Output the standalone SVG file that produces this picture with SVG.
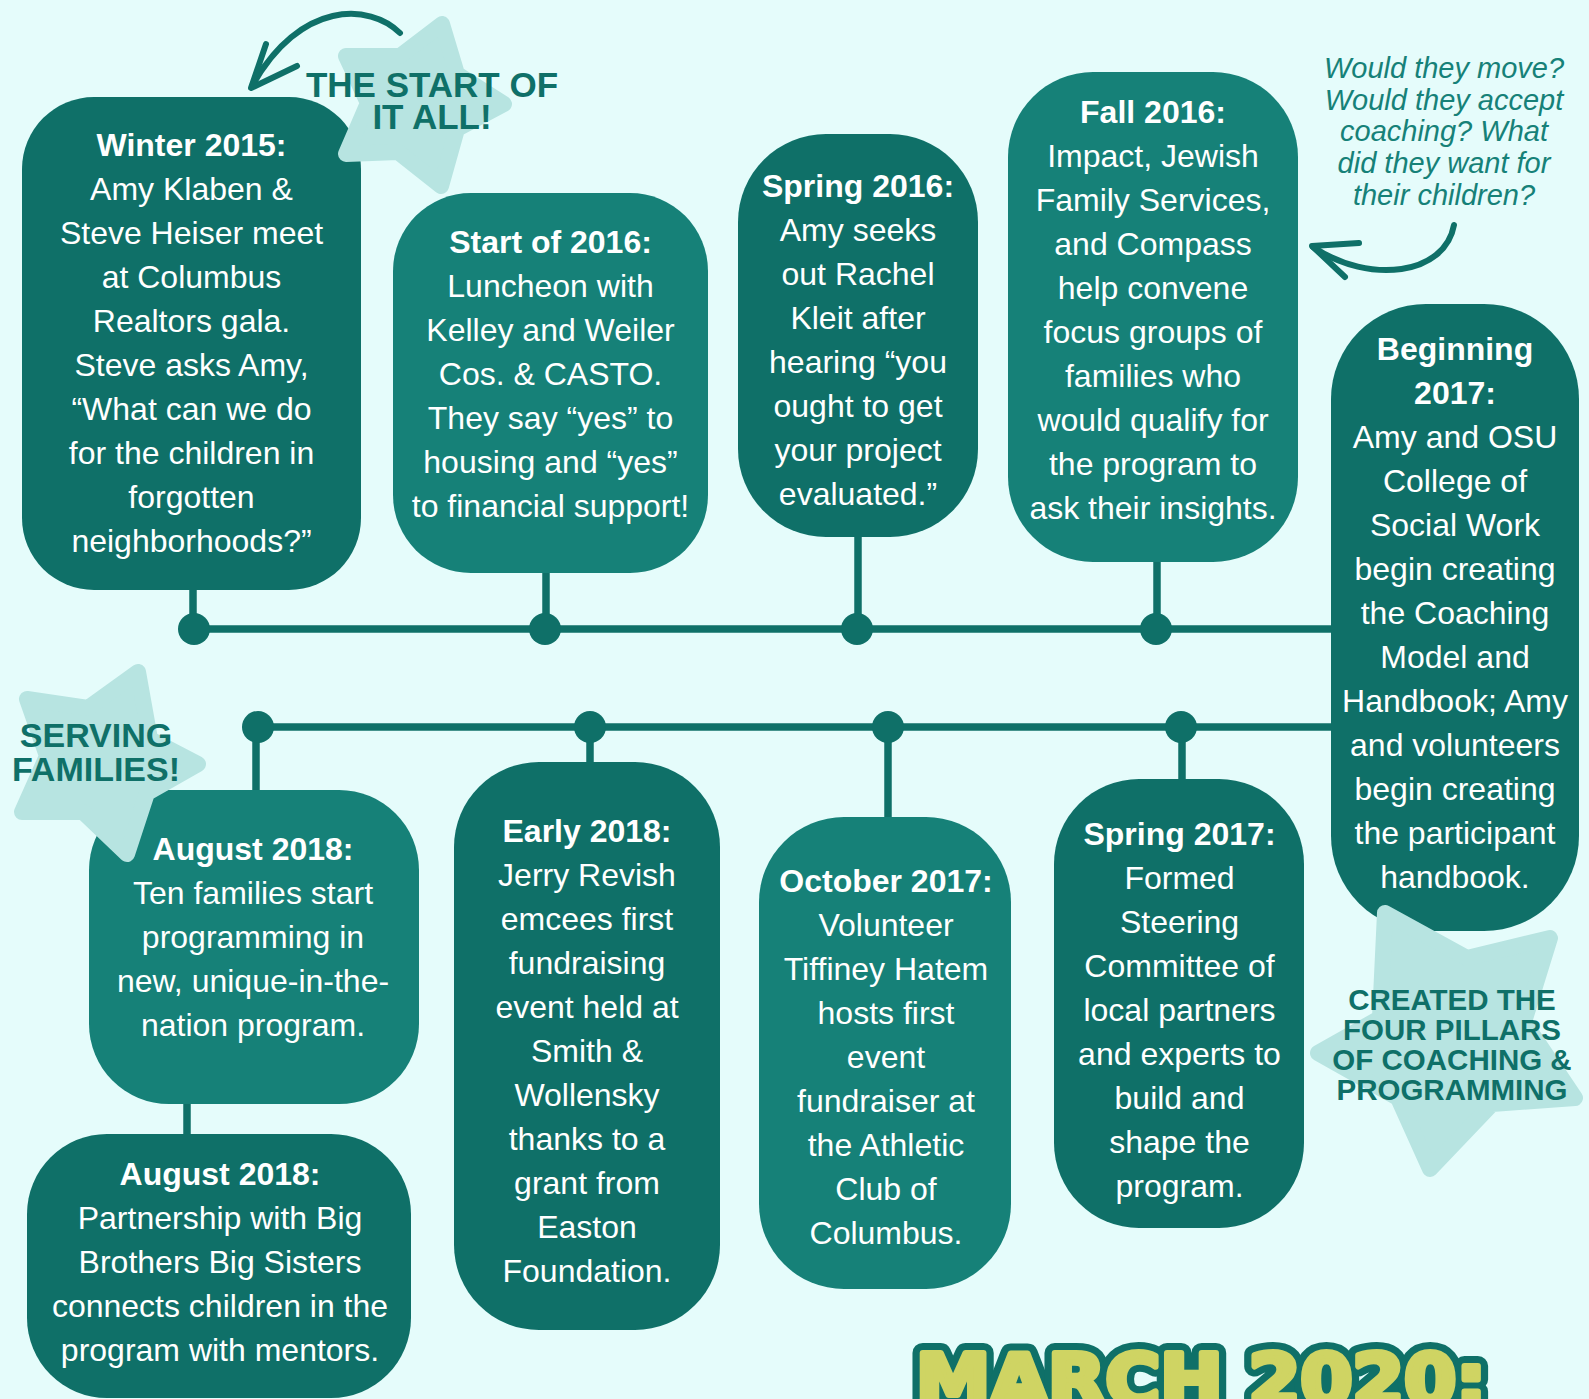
<svg xmlns="http://www.w3.org/2000/svg" width="1589" height="1399" viewBox="0 0 1589 1399">
<style>
.d{fill:#0F7068}
.l{fill:#168178}
.t{font-family:'Liberation Sans',Arial,sans-serif;font-size:32px;fill:#ffffff;text-anchor:middle}
.b{font-weight:bold}
.star{fill:#B7E4E1;stroke:#B7E4E1;stroke-width:16;stroke-linejoin:round}
.st{font-family:'Liberation Sans',Arial,sans-serif;font-weight:bold;fill:#0F7068;text-anchor:middle}
.it{font-family:'Liberation Sans',Arial,sans-serif;font-style:italic;font-size:29px;fill:#168178;text-anchor:middle}
.ln{stroke:#0F7068;stroke-width:7.5;fill:none}
.arr{stroke:#0F7068;stroke-width:6;fill:none;stroke-linecap:round;stroke-linejoin:round}
.big{font-family:'DejaVu Sans',sans-serif;font-weight:bold;font-size:72px;stroke-linejoin:round}
</style>
<rect width="1589" height="1399" fill="#E5FCFB"/>

<g id="connectors">
  <line class="ln" x1="193" y1="629" x2="1333" y2="629"/>
  <line class="ln" x1="257" y1="727" x2="1333" y2="727"/>
  <line class="ln" x1="193" y1="585" x2="193" y2="629"/>
  <line class="ln" x1="546" y1="570" x2="546" y2="629"/>
  <line class="ln" x1="858" y1="535" x2="858" y2="629"/>
  <line class="ln" x1="1157" y1="560" x2="1157" y2="629"/>
  <line class="ln" x1="256" y1="727" x2="256" y2="793"/>
  <line class="ln" x1="590" y1="727" x2="590" y2="765"/>
  <line class="ln" x1="888" y1="727" x2="888" y2="820"/>
  <line class="ln" x1="1182" y1="727" x2="1182" y2="782"/>
  <line class="ln" x1="187" y1="1100" x2="187" y2="1137"/>
  <g fill="#0F7068">
    <circle cx="194" cy="629" r="16"/>
    <circle cx="545" cy="629" r="16"/>
    <circle cx="857" cy="629" r="16"/>
    <circle cx="1156" cy="629" r="16"/>
    <circle cx="258" cy="727" r="16"/>
    <circle cx="590" cy="727" r="16"/>
    <circle cx="888" cy="727" r="16"/>
    <circle cx="1181" cy="727" r="16"/>
  </g>
</g>

<g id="winter2015">
  <rect class="d" x="22" y="97" width="339" height="493" rx="72"/>
  <text class="t" y="155.5"><tspan class="b" x="191.5">Winter 2015:</tspan><tspan x="191.5" dy="44">Amy Klaben &amp;</tspan><tspan x="191.5" dy="44">Steve Heiser meet</tspan><tspan x="191.5" dy="44">at Columbus</tspan><tspan x="191.5" dy="44">Realtors gala.</tspan><tspan x="191.5" dy="44">Steve asks Amy,</tspan><tspan x="191.5" dy="44">“What can we do</tspan><tspan x="191.5" dy="44">for the children in</tspan><tspan x="191.5" dy="44">forgotten</tspan><tspan x="191.5" dy="44">neighborhoods?”</tspan></text>
</g>

<g id="start2016">
  <rect class="l" x="393" y="193" width="315" height="380" rx="78"/>
  <text class="t" y="252.5"><tspan class="b" x="550.5">Start of 2016:</tspan><tspan x="550.5" dy="44">Luncheon with</tspan><tspan x="550.5" dy="44">Kelley and Weiler</tspan><tspan x="550.5" dy="44">Cos. &amp; CASTO.</tspan><tspan x="550.5" dy="44">They say “yes” to</tspan><tspan x="550.5" dy="44">housing and “yes”</tspan><tspan x="550.5" dy="44">to financial support!</tspan></text>
</g>

<g id="spring2016">
  <rect class="d" x="738" y="134" width="240" height="403" rx="88"/>
  <text class="t" y="196.5"><tspan class="b" x="858">Spring 2016:</tspan><tspan x="858" dy="44">Amy seeks</tspan><tspan x="858" dy="44">out Rachel</tspan><tspan x="858" dy="44">Kleit after</tspan><tspan x="858" dy="44">hearing “you</tspan><tspan x="858" dy="44">ought to get</tspan><tspan x="858" dy="44">your project</tspan><tspan x="858" dy="44">evaluated.”</tspan></text>
</g>

<g id="fall2016">
  <rect class="l" x="1008" y="72" width="290" height="490" rx="85"/>
  <text class="t" y="122.5"><tspan class="b" x="1153">Fall 2016:</tspan><tspan x="1153" dy="44">Impact, Jewish</tspan><tspan x="1153" dy="44">Family Services,</tspan><tspan x="1153" dy="44">and Compass</tspan><tspan x="1153" dy="44">help convene</tspan><tspan x="1153" dy="44">focus groups of</tspan><tspan x="1153" dy="44">families who</tspan><tspan x="1153" dy="44">would qualify for</tspan><tspan x="1153" dy="44">the program to</tspan><tspan x="1153" dy="44">ask their insights.</tspan></text>
</g>

<g id="beginning2017">
  <rect class="d" x="1331" y="304" width="248" height="627" rx="95"/>
  <text class="t" y="360"><tspan class="b" x="1455">Beginning</tspan><tspan class="b" x="1455" dy="44">2017:</tspan><tspan x="1455" dy="44">Amy and OSU</tspan><tspan x="1455" dy="44">College of</tspan><tspan x="1455" dy="44">Social Work</tspan><tspan x="1455" dy="44">begin creating</tspan><tspan x="1455" dy="44">the Coaching</tspan><tspan x="1455" dy="44">Model and</tspan><tspan x="1455" dy="44">Handbook; Amy</tspan><tspan x="1455" dy="44">and volunteers</tspan><tspan x="1455" dy="44">begin creating</tspan><tspan x="1455" dy="44">the participant</tspan><tspan x="1455" dy="44">handbook.</tspan></text>
</g>

<g id="august2018a">
  <rect class="l" x="89" y="790" width="330" height="314" rx="80"/>
  <text class="t" y="860"><tspan class="b" x="253">August 2018:</tspan><tspan x="253" dy="44">Ten families start</tspan><tspan x="253" dy="44">programming in</tspan><tspan x="253" dy="44">new, unique-in-the-</tspan><tspan x="253" dy="44">nation program.</tspan></text>
</g>

<g id="august2018b">
  <rect class="d" x="27" y="1134" width="384" height="264" rx="80"/>
  <text class="t" y="1185"><tspan class="b" x="220">August 2018:</tspan><tspan x="220" dy="44">Partnership with Big</tspan><tspan x="220" dy="44">Brothers Big Sisters</tspan><tspan x="220" dy="44">connects children in the</tspan><tspan x="220" dy="44">program with mentors.</tspan></text>
</g>

<g id="early2018">
  <rect class="d" x="454" y="762" width="266" height="568" rx="85"/>
  <text class="t" y="841.5"><tspan class="b" x="587">Early 2018:</tspan><tspan x="587" dy="44">Jerry Revish</tspan><tspan x="587" dy="44">emcees first</tspan><tspan x="587" dy="44">fundraising</tspan><tspan x="587" dy="44">event held at</tspan><tspan x="587" dy="44">Smith &amp;</tspan><tspan x="587" dy="44">Wollensky</tspan><tspan x="587" dy="44">thanks to a</tspan><tspan x="587" dy="44">grant from</tspan><tspan x="587" dy="44">Easton</tspan><tspan x="587" dy="44">Foundation.</tspan></text>
</g>

<g id="october2017">
  <rect class="l" x="759" y="817" width="252" height="472" rx="85"/>
  <text class="t" y="892"><tspan class="b" x="886">October 2017:</tspan><tspan x="886" dy="44">Volunteer</tspan><tspan x="886" dy="44">Tiffiney Hatem</tspan><tspan x="886" dy="44">hosts first</tspan><tspan x="886" dy="44">event</tspan><tspan x="886" dy="44">fundraiser at</tspan><tspan x="886" dy="44">the Athletic</tspan><tspan x="886" dy="44">Club of</tspan><tspan x="886" dy="44">Columbus.</tspan></text>
</g>

<g id="spring2017">
  <rect class="d" x="1054" y="779" width="250" height="449" rx="85"/>
  <text class="t" y="844.5"><tspan class="b" x="1179.5">Spring 2017:</tspan><tspan x="1179.5" dy="44">Formed</tspan><tspan x="1179.5" dy="44">Steering</tspan><tspan x="1179.5" dy="44">Committee of</tspan><tspan x="1179.5" dy="44">local partners</tspan><tspan x="1179.5" dy="44">and experts to</tspan><tspan x="1179.5" dy="44">build and</tspan><tspan x="1179.5" dy="44">shape the</tspan><tspan x="1179.5" dy="44">program.</tspan></text>
</g>

<g id="star-start">
  <polygon class="star" points="442,24 457,74 504,104 457,129 441,186 398,152 346,154 368,103 346,56 400,56"/>
  <text class="st" font-size="35" x="432" y="97">THE START OF</text>
  <text class="st" font-size="35" x="432" y="129">IT ALL!</text>
</g>

<g id="star-serving">
  <polygon class="star" points="138,672 150,739 198,764 147,793 127,854 83,812 22,812 47,756 27,699 88,708"/>
  <text class="st" font-size="34" x="96" y="747">SERVING</text>
  <text class="st" font-size="34" x="96" y="781">FAMILIES!</text>
</g>

<g id="star-pillars">
  <polygon class="star" points="1385,913 1467,958 1550,938 1524,1022 1575,1098 1492,1104 1430,1169 1398,1098 1318,1053 1380,1018"/>
  <text class="st" font-size="29.5" x="1452" y="1010">CREATED THE</text>
  <text class="st" font-size="29.5" x="1452" y="1040">FOUR PILLARS</text>
  <text class="st" font-size="29.5" x="1452" y="1070">OF COACHING &amp;</text>
  <text class="st" font-size="29.5" x="1452" y="1100">PROGRAMMING</text>
</g>

<g id="note-question">
  <text class="it" y="78"><tspan x="1444">Would they move?</tspan><tspan x="1444" dy="31.7">Would they accept</tspan><tspan x="1444" dy="31.7">coaching? What</tspan><tspan x="1444" dy="31.7">did they want for</tspan><tspan x="1444" dy="31.7">their children?</tspan></text>
</g>

<g id="arrows">
  <path class="arr" d="M400,33 C370,3 300,0 252,86"/>
  <path class="arr" d="M266,44 L251,88 L297,66"/>
  <path class="arr" d="M1454,225 C1445,275 1370,285 1313,247"/>
  <path class="arr" d="M1359,243 L1312,246 L1345,277"/>
</g>

<g id="march2020">
  <text class="big" x="916" y="1405" fill="#0F7068" stroke="#0F7068" stroke-width="20" textLength="570" lengthAdjust="spacingAndGlyphs">MARCH 2020:</text>
  <text class="big" x="916" y="1405" fill="#CFD463" stroke="#CFD463" stroke-width="6" textLength="570" lengthAdjust="spacingAndGlyphs">MARCH 2020:</text>
</g>
</svg>
